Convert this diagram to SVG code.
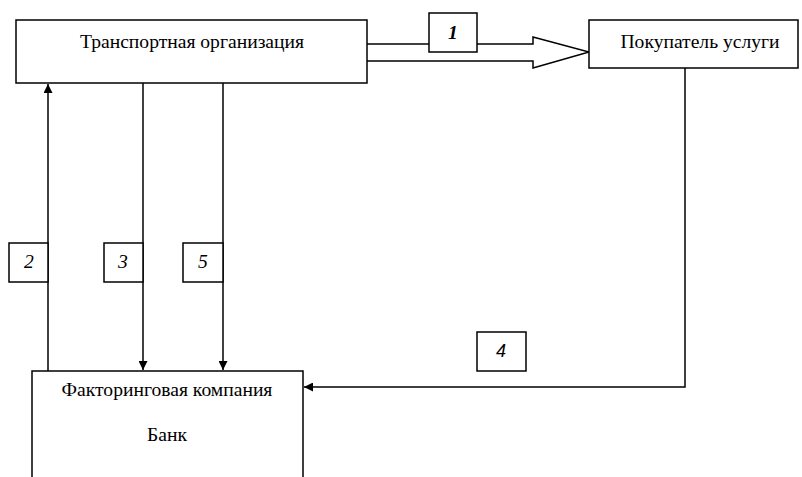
<svg xmlns="http://www.w3.org/2000/svg" width="802" height="477" viewBox="0 0 802 477">
<style>
.box{fill:#fff;stroke:#000;stroke-width:1.5}
.ln{fill:none;stroke:#000;stroke-width:1.5}
.t{font-family:"Liberation Serif",serif;font-size:19.6px;fill:#000;text-anchor:middle}
.n{font-family:"Liberation Serif",serif;font-size:19.6px;font-style:italic;fill:#000;text-anchor:middle}
</style>
<defs>
<marker id="ah" viewBox="0 0 10 10" refX="10" refY="5" markerWidth="10" markerHeight="9" markerUnits="userSpaceOnUse" orient="auto">
<path d="M0,0 L10,5 L0,10 Z" fill="#000"/>
</marker>
</defs>
<rect width="802" height="477" fill="#fff"/>
<g id="connectors">
<path class="ln" d="M367,44 H533 V37 L589,52 L533,68 V61 H367"/>
<path class="ln" d="M48,371 V84" marker-end="url(#ah)"/>
<path class="ln" d="M143,83 V370" marker-end="url(#ah)"/>
<path class="ln" d="M223,83 V370" marker-end="url(#ah)"/>
<path class="ln" d="M685,68 V387 H304" marker-end="url(#ah)"/>
</g>
<g id="transport"><rect class="box" x="16" y="20" width="351" height="63"/><text class="t" x="192" y="48">Транспортная организация</text></g>
<g id="buyer"><rect class="box" x="589" y="20" width="209" height="48"/><text class="t" x="700" y="48">Покупатель услуги</text></g>
<g id="factoring"><path class="box" d="M32,480 V371 H303 V480"/><text class="t" x="167" y="396">Факторинговая компания</text><text class="t" x="167" y="441">Банк</text></g>
<g id="label1"><rect class="box" x="429" y="13" width="48" height="39"/><text class="n" x="453" y="39" font-weight="bold">1</text></g>
<g id="label2"><rect class="box" x="9" y="243" width="39" height="39"/><text class="n" x="29" y="268">2</text></g>
<g id="label3"><rect class="box" x="104" y="243" width="39" height="39"/><text class="n" x="123" y="268">3</text></g>
<g id="label5"><rect class="box" x="183" y="243" width="40" height="39"/><text class="n" x="203" y="268">5</text></g>
<g id="label4"><rect class="box" x="477" y="332" width="49" height="39"/><text class="n" x="501" y="357" style="font-family:'Liberation Sans',sans-serif;font-size:18px">4</text></g>
</svg>
